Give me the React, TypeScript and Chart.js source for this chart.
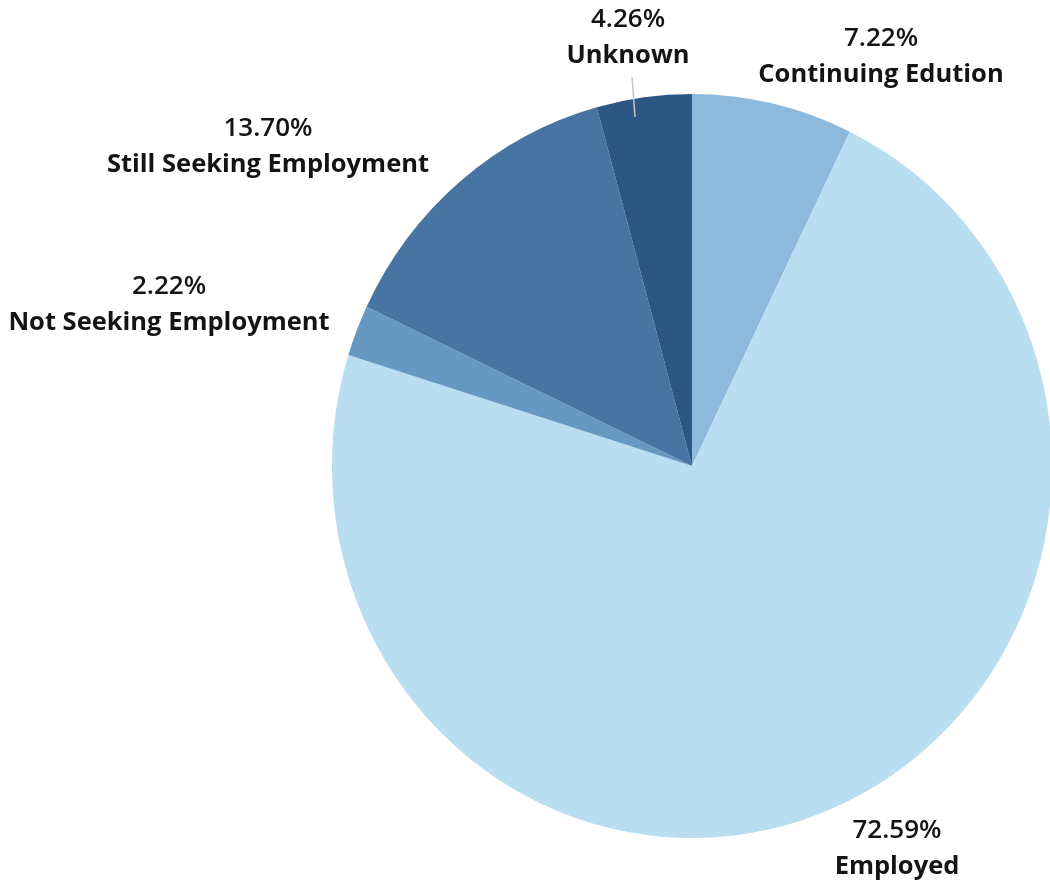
import React, { useEffect, useRef } from "react";
import { Chart, registerables } from "chart.js";

Chart.register(...registerables);

const categories = ["Continuing Edution", "Employed", "Not Seeking Employment", "Still Seeking Employment", "Unknown"];
const shares = [7.22, 72.59, 2.22, 13.7, 4.26];
const percentLabels = ["7.22%", "72.59%", "2.22%", "13.70%", "4.26%"];

const sliceColors = ["#8cb9dc", "#b9ddf1", "#6798c1", "#4874a3", "#2c5784"];
// label anchor offsets relative to pie centre (layout only)
const labelOffsetX = [189, 205, -523, -424, -64];
const labelOffsetY = [-409, 383, -161, -319, -428];
const leaderLine = [false, false, false, false, true];

const X_SCALE = 360 / 372;

const ellipsePlugin = {
  id: "ellipse",
  beforeDatasetsDraw(chart: any) {
    const arc = chart.getDatasetMeta(0).data[0];
    const ctx = chart.ctx;
    ctx.save();
    ctx.translate(arc.x, arc.y);
    ctx.scale(X_SCALE, 1);
    ctx.translate(-arc.x, -arc.y);
  },
  afterDatasetsDraw(chart: any) {
    chart.ctx.restore();
  },
};

const labelPlugin = {
  id: "outerLabels",
  afterDraw(chart: any) {
    const ctx = chart.ctx;
    const meta = chart.getDatasetMeta(0);
    meta.data.forEach((arc: any, i: number) => {
      const cx = arc.x;
      const cy = arc.y;
      const ax = cx + labelOffsetX[i];
      const ay = cy + labelOffsetY[i];
      ctx.save();
      ctx.textAlign = "center";
      ctx.textBaseline = "middle";
      ctx.fillStyle = "#141414";
      ctx.font = "600 26px 'Open Sans', sans-serif";
      ctx.fillText(percentLabels[i], ax, ay - 18);
      ctx.font = "bold 25.5px 'Open Sans', sans-serif";
      ctx.fillText(categories[i], ax, ay + 18);
      if (leaderLine[i]) {
        ctx.strokeStyle = "#c4c4c4";
        ctx.lineWidth = 1.5;
        ctx.beginPath();
        ctx.moveTo(ax + 4, ay + 39);
        ctx.lineTo(ax + 7, cy - arc.outerRadius + 23);
        ctx.stroke();
      }
      ctx.restore();
    });
  },
};

export default function App() {
  const canvasRef = useRef<HTMLCanvasElement | null>(null);

  useEffect(() => {
    if (!canvasRef.current) return;
    const chart = new Chart(canvasRef.current, {
      type: "pie",
      data: {
        labels: categories,
        datasets: [
          {
            data: shares,
            backgroundColor: sliceColors,
            borderWidth: 0,
            radius: 372,
            clip: false as any,
          },
        ],
      },
      options: {
        responsive: true,
        maintainAspectRatio: false,
        animation: false,
        layout: { padding: { left: 334, right: 0, top: 46, bottom: 0 } },
        plugins: {
          legend: { display: false },
          tooltip: { enabled: false },
          title: { display: false },
        },
      },
      plugins: [ellipsePlugin, labelPlugin],
    });
    return () => chart.destroy();
  }, []);

  return (
    <div style={{ position: "fixed", left: 0, top: 0, width: 1050, height: 886, background: "#ffffff" }}>
      <canvas ref={canvasRef} />
    </div>
  );
}
